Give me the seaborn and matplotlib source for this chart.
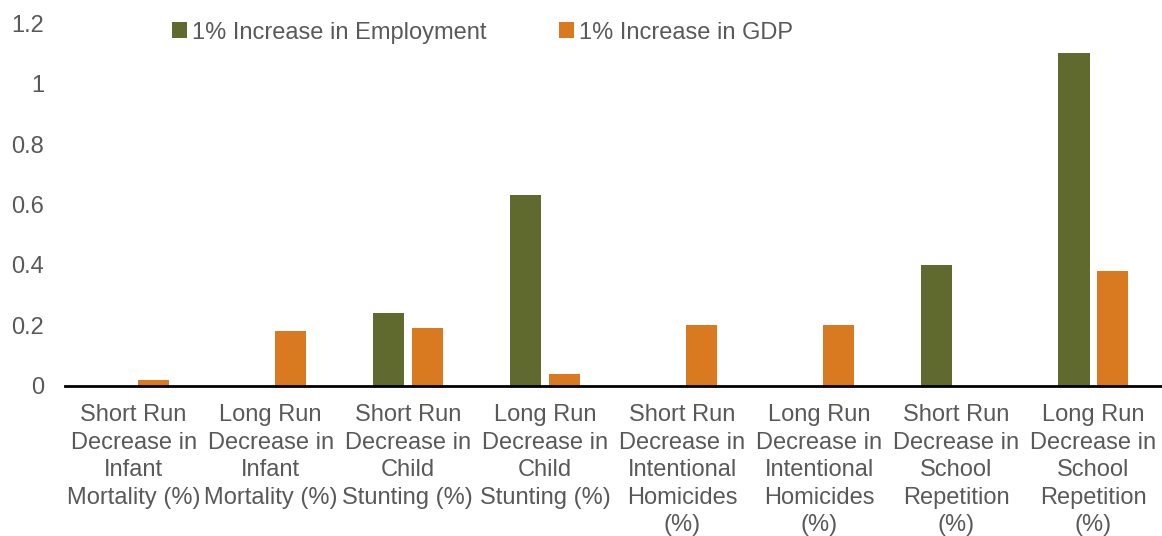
import pandas as pd
import matplotlib.pyplot as plt
import seaborn as sns

categories = [
    "Short Run\nDecrease in\nInfant\nMortality (%)",
    "Long Run\nDecrease in\nInfant\nMortality (%)",
    "Short Run\nDecrease in\nChild\nStunting (%)",
    "Long Run\nDecrease in\nChild\nStunting (%)",
    "Short Run\nDecrease in\nIntentional\nHomicides\n(%)",
    "Long Run\nDecrease in\nIntentional\nHomicides\n(%)",
    "Short Run\nDecrease in\nSchool\nRepetition\n(%)",
    "Long Run\nDecrease in\nSchool\nRepetition\n(%)",
]
employment = [0, 0, 0.24, 0.63, 0, 0, 0.40, 1.10]
gdp = [0.02, 0.18, 0.19, 0.04, 0.20, 0.20, 0, 0.38]
series = ["1% Increase in Employment", "1% Increase in GDP"]
colors = ["#606A2E", "#D97A21"]
yticks = [0, 0.2, 0.4, 0.6, 0.8, 1, 1.2]

df = pd.DataFrame({
    "category": categories * 2,
    "value": employment + gdp,
    "series": [series[0]] * len(categories) + [series[1]] * len(categories),
})

sns.set_style("white")
plt.rcParams["font.family"] = ["Liberation Sans", "DejaVu Sans"]
text_color = "#595959"

fig = plt.figure(figsize=(11.62, 5.36), dpi=100)
ax = fig.add_axes([0.056, 0.28, 0.944, 0.677])

sns.barplot(data=df, x="category", y="value", hue="series", palette=colors,
            saturation=1, width=0.568, gap=0.2, linewidth=0, ax=ax)

ax.set_ylim(0, 1.2)
ax.set_xlim(-0.5, 7.5)
ax.set_yticks(yticks)
ax.set_yticklabels([f"{t:g}" for t in yticks])
ax.set_xlabel("")
ax.set_ylabel("")
ax.tick_params(axis="y", length=0, pad=15, labelsize=17, labelcolor=text_color)
ax.tick_params(axis="x", length=0, pad=13, labelsize=17, labelcolor=text_color)
for lbl in ax.get_xticklabels():
    lbl.set_linespacing(1.33)

for side in ["top", "right", "left"]:
    ax.spines[side].set_visible(False)
ax.spines["bottom"].set_color("black")
ax.spines["bottom"].set_linewidth(2)

ax.legend(loc="upper left", bbox_to_anchor=(0.089, 1.03), ncol=2, frameon=False,
          fontsize=17, labelcolor=text_color, handlelength=0.65, handleheight=0.65,
          handletextpad=0.2, columnspacing=3.05, borderaxespad=0)

fig.savefig("out.png", dpi=100)
